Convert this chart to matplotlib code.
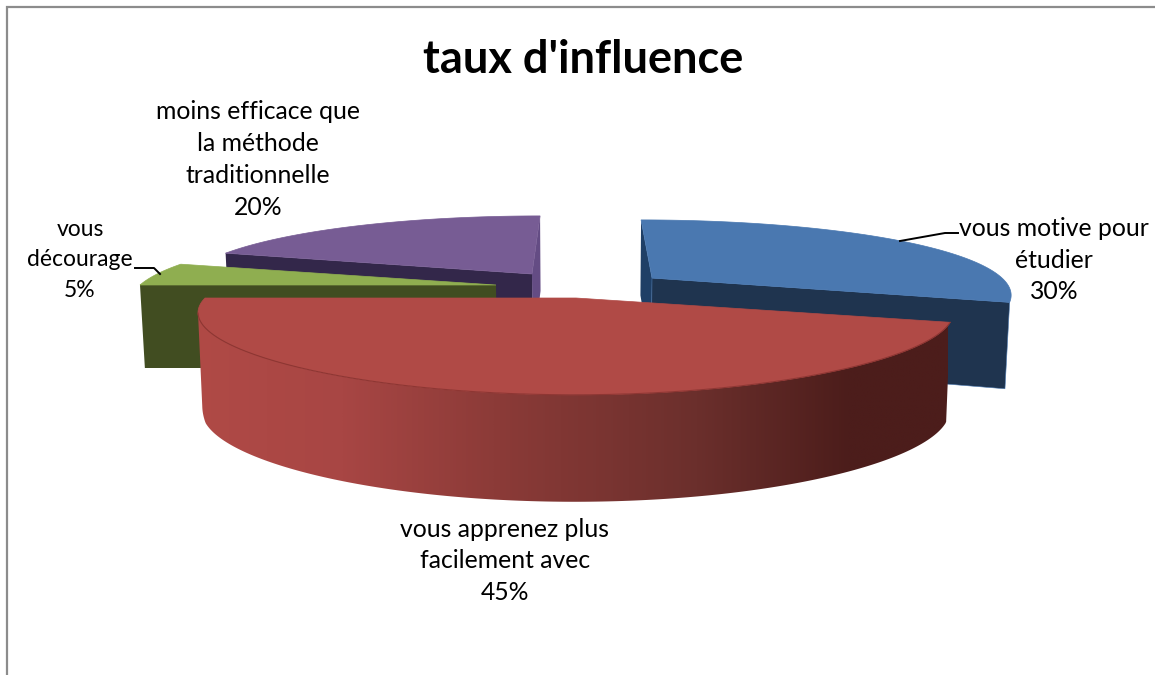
import numpy as np
import matplotlib
matplotlib.use('Agg')
import matplotlib.pyplot as plt
from matplotlib.colors import LinearSegmentedColormap
from matplotlib.patches import Polygon

plt.rcParams['font.family'] = ['Lato', 'DejaVu Sans']

# Data (clockwise from 12 o'clock)
labels = ["vous motive pour\nétudier", "vous apprenez plus\nfacilement avec",
          "vous\ndécourage", "moins efficace que\nla méthode\ntraditionnelle"]
shares = [30, 45, 5, 20]
title = "taux d'influence"

top_colors = ['#4A78B0', '#B04A46', '#8FAE50', '#775C94']
wall_colors = ['#1F344F', '#4C1D1B', '#414D21', '#33274A']
side_colors = ['#1F3F66', '#4C1D1B', '#414D21', '#644C84']

# exploded slice apex on screen and radius, per slice
apex = [(652, 278), (576, 298), (496, 285), (532, 274)]
radius = [350, 371, 356, 344]
label_pos = [(1054, 260), (505, 561), (80, 260), (258, 159.5)]
label_sizes = [17.8, 17.8, 16.5, 17.8]

# projection settings
cx = 583
kx = 0.188
ky = 0.25
b = 72.6

red_cmap = LinearSegmentedColormap.from_list('red_wall', [
    (0.0, '#B04A46'), (0.2, '#A84644'), (0.4, '#8C3B38'),
    (0.67, '#6B2F2C'), (0.87, '#4C1D1B'), (1.0, '#4C1D1B')])


def project(ax_, ay_, r, t):
    u, v = np.sin(t), np.cos(t)
    x = cx + (ax_ - cx + r * u) / (1 + kx * v)
    y = ay_ - b * v / (1 + ky * v)
    return x, y


def drop(x, y):
    # bottom edge of the wall under a top-surface point
    h = np.interp(y, [216, 285, 305, 323, 395], [75, 83, 87, 100, 107])
    return cx + (x - cx) * 0.989, y + h


fig = plt.figure(figsize=(11.55, 6.75), dpi=100)
ax = fig.add_axes([0, 0, 1, 1])

# frame
ax.plot([7, 7, 1155], [675, 7, 7], color='#8C8C8C', lw=1.6, solid_joinstyle='miter')

edges = np.cumsum([0] + shares) / sum(shares) * 2 * np.pi


def draw_slice(i, z):
    t0, t1 = edges[i], edges[i + 1]
    ax_, ay_ = apex[i]
    r = radius[i]
    ts = np.linspace(t0, t1, 200)
    xs, ys = project(ax_, ay_, r, ts)

    # radial walls
    bx0, by0 = drop(xs[0], ys[0])
    bx1, by1 = drop(xs[-1], ys[-1])
    abx, aby = drop(ax_, ay_)
    if i == 0:
        ax.add_patch(Polygon([(xs[0], ys[0]), (ax_, ay_), (abx, aby), (bx0, by0)],
                             fc=side_colors[i], ec='none', zorder=z))
        ax.add_patch(Polygon([(ax_, ay_), (xs[-1], ys[-1]), (bx1, by1), (abx, aby)],
                             fc=wall_colors[i], ec='#4A78B0', lw=0.4, zorder=z))
    elif i == 2:
        ax.add_patch(Polygon([(ax_, ay_), (xs[0], ys[0]), (bx0, by0), (abx, aby)],
                             fc=wall_colors[i], ec='none', zorder=z))
    elif i == 3:
        ax.add_patch(Polygon([(xs[-1], ys[-1]), (ax_, ay_), (abx, aby), (bx1, by1)],
                             fc=side_colors[i], ec='none', zorder=z))
        ax.add_patch(Polygon([(ax_, ay_), (xs[0], ys[0]), (bx0, by0), (abx, aby)],
                             fc=wall_colors[i], ec='none', zorder=z))
    else:
        # red slice: curved wall, only up to the leftmost point of the rim
        bxs, bys = drop(xs, ys)
        n = np.argmin(xs) + 1
        outline = np.column_stack([np.r_[xs[:n], bxs[:n][::-1]], np.r_[ys[:n], bys[:n][::-1]]])
        clip = Polygon(outline, transform=ax.transData, fc='none', ec='none')
        ax.add_patch(clip)
        grad = np.linspace(0, 1, 512).reshape(1, -1)
        img = ax.imshow(grad, cmap=red_cmap, extent=[190, 948, 520, 290], aspect='auto',
                        interpolation='bilinear', zorder=z)
        img.set_clip_path(clip)

    # top surface
    pts = np.column_stack([np.r_[ax_, xs], np.r_[ay_, ys]])
    ax.add_patch(Polygon(pts, fc=top_colors[i], ec=top_colors[i], lw=0.5, zorder=z + 0.5))
    if i == 1:
        n = np.argmin(xs) + 1
        ax.plot(xs[:n], ys[:n], color='#8E3633', lw=0.8, zorder=z + 0.6)


# back to front
for z, i in enumerate([3, 0, 2, 1]):
    draw_slice(i, z + 1)

ax.set_xlim(0, 1155)
ax.set_ylim(675, 0)
ax.axis('off')

# leader lines
ax.plot([958, 945, 900], [233, 233, 241], color='black', lw=1.4, zorder=6)
ax.plot([135, 154, 160], [268, 268, 274], color='black', lw=1.4, zorder=6)

ax.text(583, 60, title, ha='center', va='center', fontsize=32.5, fontweight='bold', color='black')

for name, share, (lx, ly), size in zip(labels, shares, label_pos, label_sizes):
    ax.text(lx, ly, f"{name}\n{share}%", ha='center', va='center', fontsize=size,
            linespacing=1.47 * 17.8 / size, color='black')

fig.savefig('out.png', dpi=100, facecolor='white')
